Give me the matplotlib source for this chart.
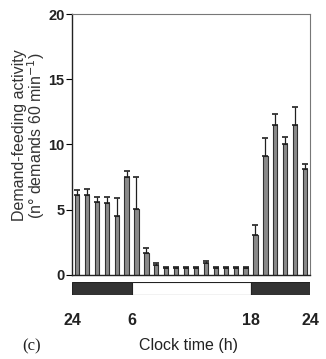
import matplotlib
matplotlib.use("Agg")
import matplotlib.pyplot as plt
import numpy as np

hours = np.arange(24) + 0.5
means = [6.1, 6.1, 5.6, 5.5, 4.55, 7.5, 5.05, 1.7, 0.8, 0.55, 0.55, 0.55, 0.55, 0.9,
         0.55, 0.55, 0.55, 0.55, 3.05, 9.15, 11.5, 10.05, 11.5, 8.1]
upper = [6.5, 6.6, 5.95, 6.0, 5.9, 8.0, 7.5, 2.1, 0.95, 0.6, 0.6, 0.6, 0.6, 1.05,
         0.6, 0.6, 0.6, 0.6, 3.8, 10.5, 12.3, 10.6, 12.9, 8.5]
light_start = [0, 6, 18]
light_len = [6, 12, 6]
light_col = ['#333333', 'white', '#333333']
yticks = [0, 5, 10, 15, 20]
xtick_pos = [0, 6, 18, 24]
xtick_lab = ['24', '6', '18', '24']

plt.rcParams['font.family'] = ['Liberation Sans', 'DejaVu Sans']

fig = plt.figure(figsize=(3.26, 3.59), dpi=100)
ax = fig.add_axes([0.221, 0.234, 0.730, 0.727])
err = np.array(upper) - np.array(means)
ax.bar(hours, means, width=0.43, color='#8a8a8a', edgecolor='#303030', linewidth=0.8,
       yerr=[np.zeros(24), err], error_kw=dict(ecolor='#202020', elinewidth=0.9, capsize=2, capthick=1.2))
ax.set_xlim(0, 24)
ax.set_ylim(0, 20)
ax.set_yticks(yticks)
ax.set_yticklabels([str(v) for v in yticks], fontsize=10.5, fontweight='bold', color='#222222')
ax.tick_params(axis='y', direction='out', length=4, width=0.8, pad=1.5)
ax.set_xticks([])
for s in ['top', 'right']:
    ax.spines[s].set_color('#777777')
    ax.spines[s].set_linewidth(0.8)
for s in ['left', 'bottom']:
    ax.spines[s].set_color('#222222')
    ax.spines[s].set_linewidth(1.0)
ax.set_ylabel('Demand-feeding activity\n(n° demands 60 min$^{-1}$)', fontsize=11.5,
              color='#333333', linespacing=0.9)
ax.yaxis.set_label_coords(-0.105, 0.536)

bx = fig.add_axes([0.221, 0.178, 0.730, 0.036])
bx.barh([0, 0, 0], light_len, left=light_start, height=1, color=light_col,
        edgecolor='#222222', linewidth=0.8)
bx.set_xlim(0, 24)
bx.set_ylim(-0.5, 0.5)
bx.set_yticks([])
bx.set_xticks(xtick_pos)
bx.set_xticklabels(xtick_lab, fontsize=11.5, fontweight='bold', color='#222222')
bx.tick_params(axis='x', length=0, pad=13)
for s in bx.spines.values():
    s.set_visible(False)

fig.text(0.577, 0.038, 'Clock time (h)', ha='center', va='center', fontsize=11.5, color='#222222')
fig.text(0.098, 0.035, '(c)', ha='center', va='center', fontsize=12, family='Liberation Serif', color='#222222')

fig.savefig('out.png', dpi=100)
